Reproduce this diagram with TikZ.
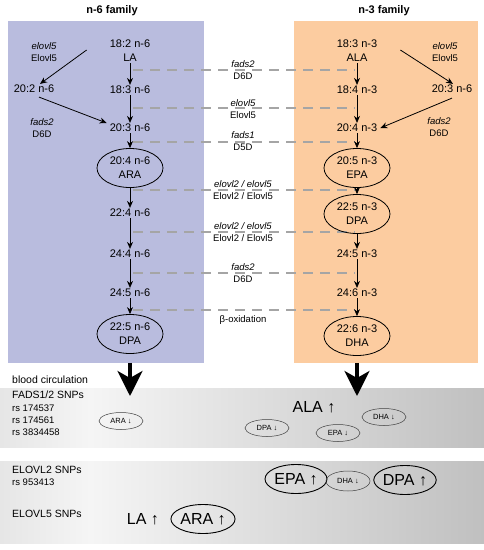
\documentclass[tikz,border=0pt]{standalone}
\usepackage{fontspec}
\setmainfont{Liberation Sans}
\usetikzlibrary{arrows.meta,shapes.geometric}
\definecolor{panelblue}{RGB}{185,188,222}
\definecolor{panelorange}{RGB}{252,204,160}
\definecolor{dashgray}{RGB}{165,165,165}
\definecolor{bandA}{RGB}{230,230,230}
\definecolor{bandB}{RGB}{245,245,245}
\definecolor{bandC}{RGB}{192,192,192}
\begin{document}
\begin{tikzpicture}[x=1pt,y=-1pt,
  fa/.style={font=\fontsize{11}{14}\selectfont, align=center, inner sep=1pt},
  lab/.style={font=\fontsize{9.5}{12.5}\selectfont, align=center, inner sep=1pt},
  ttl/.style={font=\fontsize{11}{13}\selectfont\bfseries, inner sep=1pt},
  ell/.style={ellipse, draw, line width=0.8pt, inner sep=0pt, minimum width=66pt, minimum height=39pt, font=\fontsize{11}{14}\selectfont, align=center},
  arr/.style={-{Stealth[length=7pt,width=6pt]}, line width=0.8pt},
  dsh/.style={draw=dashgray, line width=1.1pt, dash pattern=on 10pt off 7pt},
  bigarr/.style={-{Stealth[length=25pt,width=25pt,inset=7pt]}, line width=3.5pt},
  lt/.style={font=\fontsize{10.5}{12}\selectfont, anchor=west, inner sep=0pt},
  lts/.style={font=\fontsize{9.5}{12}\selectfont, anchor=west, inner sep=0pt},
  sell/.style={ellipse, draw=black!75, line width=0.5pt, inner sep=0pt, minimum width=44pt, minimum height=17pt, font=\fontsize{7.5}{8}\selectfont},
  bell/.style={ellipse, draw, line width=0.9pt, inner sep=0pt, minimum width=62pt, minimum height=29pt, font=\fontsize{16}{18}\selectfont},
  big/.style={font=\fontsize{16}{18}\selectfont, inner sep=0pt}
]
\useasboundingbox (0,0) rectangle (484,550);
% panels
\fill[panelblue] (8,21) rectangle (204,363);
\fill[panelorange] (294,21) rectangle (478,363);
% bands
\shade[left color=bandA, right color=bandB] (0,388) rectangle (90,447);
\shade[left color=bandB, right color=bandC] (90,388) rectangle (484,447);
\shade[left color=bandA, right color=bandB] (0,461) rectangle (90,543);
\shade[left color=bandB, right color=bandC] (90,461) rectangle (484,543);

% titles
\node[ttl] (t6) at (112,11) {n-6 family};
\node[ttl] (t3) at (384,11) {n-3 family};

% dashed lines
\foreach \yy/\nm in {70/a,108/b,142/c,190/d,232/e,273/f,310/g}{
  \coordinate (dl\nm) at (133,\yy);
  \coordinate (dr\nm) at (355,\yy);
  \draw[dsh] (dl\nm) -- (dr\nm);
}

% n-6 column
\node[fa] (n6a) at (130,51) {18:2 n-6\\LA};
\node[fa] (n6b) at (130,90) {18:3 n-6};
\node[fa] (n6c) at (130,128) {20:3 n-6};
\node[ell] (n6d) at (130,168) {20:4 n-6\\ARA};
\node[fa] (n6e) at (130,213) {22:4 n-6};
\node[fa] (n6f) at (130,254) {24:4 n-6};
\node[fa] (n6g) at (130,293) {24:5 n-6};
\node[ell] (n6h) at (130,334) {22:5 n-6\\DPA};
\node[fa] (n6x) at (34,89) {20:2 n-6};
\node[lab] (l6a) at (44,52) {\textit{elovl5}\\Elovl5};
\node[lab] (l6b) at (42,128) {\textit{fads2}\\D6D};

\draw[arr] (n6a) -- (n6b);
\draw[arr] (n6b) -- (n6c);
\draw[arr] (n6c) -- (n6d);
\draw[arr] (n6d) -- (n6e);
\draw[arr] (n6e) -- (n6f);
\draw[arr] (n6f) -- (n6g);
\draw[arr] (n6g) -- (n6h);
\draw[arr] ([xshift=-22pt,yshift=1pt]n6a.west) -- ([xshift=6pt]n6x.north);
\draw[arr] ([xshift=5pt,yshift=-3pt]n6x.south) -- ([xshift=-2pt,yshift=5pt]n6c.west);

% n-3 column
\node[fa] (n3a) at (357,51) {18:3 n-3\\ALA};
\node[fa] (n3b) at (357,90) {18:4 n-3};
\node[fa] (n3c) at (357,128) {20:4 n-3};
\node[ell] (n3d) at (357,168) {20:5 n-3\\EPA};
\node[ell] (n3e) at (357,214) {22:5 n-3\\DPA};
\node[fa] (n3f) at (357,254) {24:5 n-3};
\node[fa] (n3g) at (357,293) {24:6 n-3};
\node[ell] (n3h) at (357,336) {22:6 n-3\\DHA};
\node[fa] (n3x) at (452,89) {20:3 n-6};
\node[lab] (l3a) at (445,52) {\textit{elovl5}\\Elovl5};
\node[lab] (l3b) at (439,127) {\textit{fads2}\\D6D};

\draw[arr] (n3a) -- (n3b);
\draw[arr] (n3b) -- (n3c);
\draw[arr] (n3c) -- (n3d);
\draw[arr] (n3d) -- (n3e);
\draw[arr] (n3e) -- (n3f);
\draw[arr] (n3f) -- (n3g);
\draw[arr] (n3g) -- (n3h);
\draw[arr] ([xshift=22pt,yshift=1pt]n3a.east) -- ([xshift=1pt]n3x.north);
\draw[arr] ([yshift=-4pt]n3x.south) -- ([xshift=2pt]n3c.east);

% middle labels
\node[lab] (ma) at (243,70) {\textit{fads2}\\D6D};
\node[lab] (mb) at (243,109) {\textit{elovl5}\\Elovl5};
\node[lab] (mc) at (243,141) {\textit{fads1}\\D5D};
\node[lab] (md) at (243,190) {\textit{elovl2 / elovl5}\\Elovl2 / Elovl5};
\node[lab] (me) at (243,232) {\textit{elovl2 / elovl5}\\Elovl2 / Elovl5};
\node[lab] (mf) at (243,273) {\textit{fads2}\\D6D};
\node[lab] (mg) at (243,320) {β-oxidation};

% big arrows
\coordinate (tip6) at (130,396);
\coordinate (tip3) at (357,396);
\draw[bigarr] ([yshift=-9pt]n6h.south) -- (tip6);
\draw[bigarr] ([yshift=-7pt]n3h.south) -- (tip3);

% bottom texts
\node[lt] (bc) at (12,380) {blood circulation};
\node[lt] (fs) at (12,395) {FADS1/2 SNPs};
\node[lts] (r1) at (12,408) {rs 174537};
\node[lts] (r2) at (12,420) {rs 174561};
\node[lts] (r3) at (12,432) {rs 3834458};
\node[lt] (e2) at (12,470) {ELOVL2 SNPs};
\node[lts] (r4) at (12,482) {rs 953413};
\node[lt] (e5) at (12,514) {ELOVL5 SNPs};

\node[sell] (s1) at (121,421) {ARA ↓};
\node[big] (s2) at (314,407) {ALA ↑};
\node[sell] (s3) at (267,428) {DPA ↓};
\node[sell] (s4) at (338,433) {EPA ↓};
\node[sell] (s5) at (384,417) {DHA ↓};

\node[bell] (s6) at (296,479) {EPA ↑};
\node[sell, minimum height=20pt] (s7) at (348,481) {DHA ↓};
\node[bell, minimum width=56pt] (s8) at (405,480) {DPA ↑};
\node[big] (s9) at (143,519) {LA ↑};
\node[bell] (s10) at (203,519) {ARA ↑};
\end{tikzpicture}
\end{document}
